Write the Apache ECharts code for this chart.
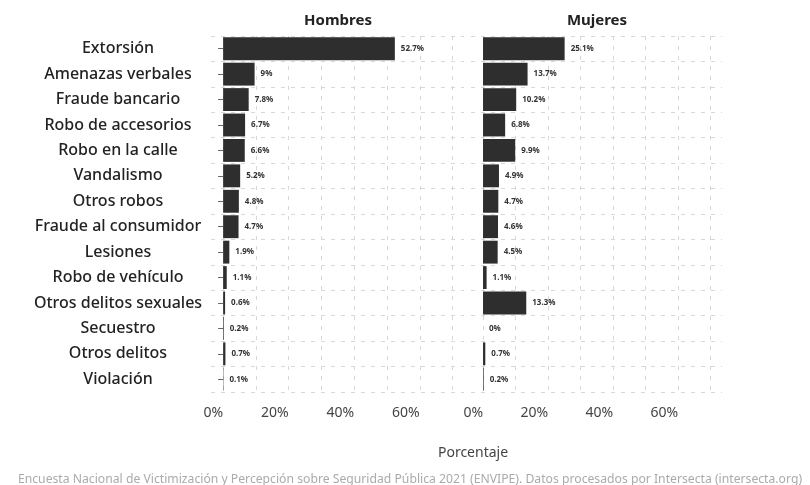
<!DOCTYPE html>
<html><head><meta charset="utf-8">
<script src="https://cdn.jsdelivr.net/npm/echarts@6/dist/echarts.min.js"></script>
<style>html,body{margin:0;padding:0;background:#fff}#c{width:810px;height:485px}</style>
</head><body><div id="c"></div>
<script>
const categories = ["Extorsión","Amenazas verbales","Fraude bancario","Robo de accesorios","Robo en la calle","Vandalismo","Otros robos","Fraude al consumidor","Lesiones","Robo de vehículo","Otros delitos sexuales","Secuestro","Otros delitos","Violación"];
const hombres = [52.4, 9.6, 7.8, 6.7, 6.6, 5.2, 4.8, 4.7, 1.9, 1.1, 0.6, 0.2, 0.7, 0.1];
const hombresLabels = ["52.7%","9%","7.8%","6.7%","6.6%","5.2%","4.8%","4.7%","1.9%","1.1%","0.6%","0.2%","0.7%","0.1%"];
const mujeres = [25.1, 13.7, 10.2, 6.8, 9.9, 4.9, 4.7, 4.6, 4.5, 1.1, 13.3, 0, 0.7, 0.2];
const mujeresLabels = ["25.1%","13.7%","10.2%","6.8%","9.9%","4.9%","4.7%","4.6%","4.5%","1.1%","13.3%","0%","0.7%","0.2%"];
const panelTitles = ["Hombres","Mujeres"];
const xTicks = [0, 20, 40, 60];
const xGrid = [0, 10, 20, 30, 40, 50, 60, 70];
const axisTitle = "Porcentaje";
const caption = "Encuesta Nacional de Victimización y Percepción sobre Seguridad Pública 2021 (ENVIPE). Datos procesados por Intersecta (intersecta.org)";

const FONT = "Noto Sans";
const chart = echarts.init(document.getElementById('c'));
const grids = [{left:211, top:36, width:253, height:356},{left:471, top:36, width:251, height:356}];
function xAxis(i){
  return {type:'value', gridIndex:i, min:-3.7, max:73.5,
    axisLine:{show:false},
    axisTick:{show:false, customValues:xGrid},
    axisLabel:{fontFamily:FONT, fontSize:14, color:'#444', align:'right', margin:14, customValues:xTicks,
      formatter:v=> v+'%'},
    splitLine:{show:true, lineStyle:{type:[4,6], color:'#d8d8d8'}}
  };
}
function yAxis(i){
  return {type:'category', gridIndex:i, data:categories, inverse:true,
    axisLine:{show:false},
    axisTick:{show:i===0, length:5, alignWithLabel:true, lineStyle:{color:'#666'}},
    axisLabel:{show:i===0, fontFamily:FONT, fontSize:16, fontWeight:500, color:'#222', align:'center', margin:93},
    splitLine:{show:true, interval:0, lineStyle:{type:[4,6], color:'#d8d8d8'}}
  };
}
function series(i, vals, labs){
  return {type:'bar', xAxisIndex:i, yAxisIndex:i, data:vals, barCategoryGap:'10%',
    itemStyle:{color:'#2e2e2e'},
    label:{show:true, position:'right', distance:6, fontFamily:FONT, fontSize:8, fontWeight:'bold', color:'#333',
      formatter:p=>labs[p.dataIndex]}};
}
chart.setOption({
  animation:false,
  grid:grids,
  xAxis:[xAxis(0), xAxis(1)],
  yAxis:[yAxis(0), yAxis(1)],
  series:[series(0,hombres,hombresLabels), series(1,mujeres,mujeresLabels)],
  title:[
    {text:panelTitles[0], left:333, top:8, textAlign:'center', textStyle:{fontFamily:FONT, fontSize:15, fontWeight:'bold', color:'#222'}},
    {text:panelTitles[1], left:592, top:8, textAlign:'center', textStyle:{fontFamily:FONT, fontSize:15, fontWeight:'bold', color:'#222'}},
    {text:axisTitle, left:468, top:441, textAlign:'center', textStyle:{fontFamily:FONT, fontSize:14, fontWeight:'normal', color:'#444'}},
    {text:caption, left:405, top:469, textAlign:'center', textStyle:{fontFamily:FONT, fontSize:12.2, fontWeight:'normal', color:'#aaa'}}
  ]
});
</script></body></html>
